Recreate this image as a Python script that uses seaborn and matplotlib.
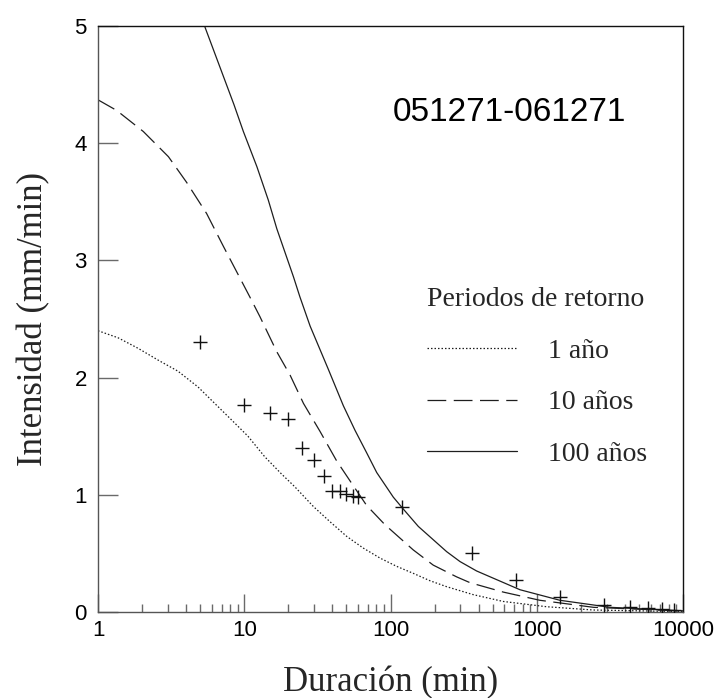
import numpy as np
import pandas as pd
import matplotlib
matplotlib.use("Agg")
import matplotlib.pyplot as plt
import seaborn as sns
from matplotlib.lines import Line2D

# ---- data ----
dur_1 = [1, 1.37, 1.88, 2.57, 3.52, 4.83, 6.28, 8.17, 10.6, 13.8, 17.9, 22.1,
         29.7, 38.6, 50.2, 65.2, 84.8, 110, 143, 186, 242, 368, 590, 1168, 2440, 10000]
int_1 = [2.40, 2.34, 2.25, 2.15, 2.055, 1.92, 1.78, 1.64, 1.50, 1.325, 1.18, 1.07,
         0.90, 0.77, 0.645, 0.545, 0.46, 0.39, 0.33, 0.267, 0.216, 0.148, 0.09, 0.045,
         0.017, 0.003]

dur_10 = [1, 1.34, 2.04, 3.03, 4.04, 5.53, 7.2, 10.9, 12.8, 16.7, 20.6, 25.4, 33,
          42.8, 52.8, 68.6, 91.6, 143, 196, 283, 350, 590, 1050, 2440, 10000]
int_10 = [4.37, 4.28, 4.10, 3.885, 3.665, 3.40, 3.12, 2.69, 2.52, 2.22, 2.02, 1.78, 1.54,
          1.29, 1.12, 0.91, 0.745, 0.53, 0.40, 0.30, 0.25, 0.17, 0.10, 0.04, 0.008]

dur_100 = [5.39, 8.5, 9.86, 12.2, 14.6, 16.7, 21.7, 24.0, 28.2, 37.6, 47.6, 57.2,
           68.6, 80.5, 104.5, 122, 155, 242, 299, 388, 768, 1440, 3170, 10000]
int_100 = [4.99, 4.33, 4.10, 3.80, 3.515, 3.27, 2.86, 2.69, 2.44, 2.07, 1.76, 1.55,
           1.36, 1.19, 0.98, 0.88, 0.73, 0.515, 0.43, 0.35, 0.19, 0.10, 0.04, 0.01]

obs_dur = [5, 10, 15, 20, 25, 30, 35, 40, 45, 50, 55, 60, 120, 360, 720, 1440,
           2880, 4320, 5760, 7200, 8640]
obs_int = [2.30, 1.77, 1.70, 1.645, 1.40, 1.30, 1.16, 1.03, 1.035, 1.01, 0.99, 0.985,
           0.90, 0.50, 0.27, 0.13, 0.06, 0.04, 0.03, 0.025, 0.02]

labels = ["1 año", "10 años", "100 años"]
xticks = [1, 10, 100, 1000, 10000]
xticklabels = ["1", "10", "100", "1000", "10000"]
yticks = [0, 1, 2, 3, 4, 5]
title_text = "051271-061271"

# ---- figure ----
sns.set_theme(style="white")
plt.rcParams["font.family"] = ["Liberation Sans", "DejaVu Sans"]

fig = plt.figure(figsize=(7.23, 6.98), dpi=100)
ax = fig.add_axes([98 / 723, 86 / 698, 585 / 723, 586 / 698])

df = pd.concat([
    pd.DataFrame({"dur": dur_1, "int": int_1, "periodo": labels[0]}),
    pd.DataFrame({"dur": dur_10, "int": int_10, "periodo": labels[1]}),
    pd.DataFrame({"dur": dur_100, "int": int_100, "periodo": labels[2]}),
])
line_col = "#1e1e1e"
dash_map = {labels[0]: (1.2, 1.6), labels[1]: (15, 6), labels[2]: ""}
sns.lineplot(data=df, x="dur", y="int", style="periodo", dashes=dash_map,
             color=line_col, linewidth=0.9, sort=False, legend=False, ax=ax,
             estimator=None)

sns.scatterplot(x=obs_dur, y=obs_int, marker="+", s=110, color="#111111",
                linewidth=1.0, ax=ax, zorder=3)

ax.set_xscale("log")
ax.set_xlim(1, 10000)
ax.set_ylim(0, 5)
ax.set_xticks(xticks)
ax.set_xticklabels(xticklabels)
ax.set_yticks(yticks)
ax.set_yticklabels([str(v) for v in yticks])
ax.xaxis.set_minor_locator(matplotlib.ticker.LogLocator(base=10, subs=np.arange(2, 10)))
ax.xaxis.set_minor_formatter(matplotlib.ticker.NullFormatter())

tick_col = "#6a6a6a"
ax.tick_params(axis="x", which="major", direction="in", length=13, width=1.0,
               color=tick_col, labelsize=16, pad=6, bottom=True, top=False)
ax.tick_params(axis="x", which="minor", direction="in", length=6, width=1.0,
               color=tick_col, bottom=True, top=False)
ax.tick_params(axis="y", which="major", direction="in", length=14.5, width=1.0,
               color=tick_col, labelsize=16, pad=8, left=True, right=False)
for lab in ax.get_xticklabels() + ax.get_yticklabels():
    lab.set_color("black")

for side in ["left", "bottom"]:
    ax.spines[side].set_color("#555555")
    ax.spines[side].set_linewidth(1.0)
for side in ["top", "right"]:
    ax.spines[side].set_color("#111111")
    ax.spines[side].set_linewidth(1.0)

serif = ["Liberation Serif", "DejaVu Serif"]
ax.set_xlabel("Duración (min)", family=serif, fontsize=25)
ax.set_ylabel("Intensidad (mm/min)", family=serif, fontsize=25)
ax.xaxis.set_label_coords(0.5, -0.092)
ax.yaxis.set_label_coords(-0.082, 0.5)

ax.text(0.704, 0.852, title_text, transform=ax.transAxes, ha="center", va="center",
        fontsize=24, color="black")

handles = [
    Line2D([], [], color=line_col, lw=0.9, dashes=dash_map[labels[0]]),
    Line2D([], [], color=line_col, lw=0.9, dashes=dash_map[labels[1]]),
    Line2D([], [], color=line_col, lw=0.9),
]
leg = ax.legend(handles, labels, title="Periodos de retorno", loc="upper left",
                bbox_to_anchor=(0.52, 0.597), frameon=False,
                prop={"family": serif, "size": 20},
                title_fontproperties={"family": serif, "size": 20},
                handlelength=3.24, handletextpad=1.1, labelspacing=0.94,
                alignment="left")

fig.savefig("out.png", dpi=100, facecolor="white")
